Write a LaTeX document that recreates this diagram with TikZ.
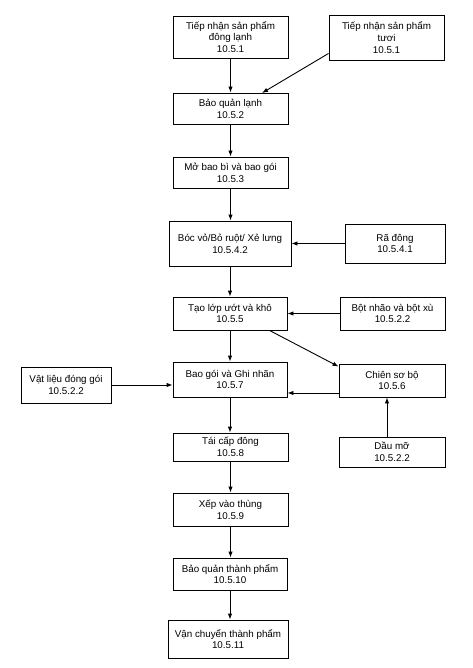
\documentclass[tikz,border=0pt]{standalone}
\usepackage{fontspec}
\setmainfont{Liberation Sans}
\usetikzlibrary{arrows.meta}
\begin{document}
\begin{tikzpicture}[x=1pt,y=-1pt,
  box/.style={draw,line width=0.9pt,align=center,inner sep=1pt,font=\fontsize{9.8}{11.8}\selectfont},
  arr/.style={-{Latex[length=6pt,width=4.5pt]},line width=0.9pt}]
\useasboundingbox (0,0) rectangle (472,668);
\node[box,minimum width=115pt,minimum height=42pt] (b1) at (230.5,37) {Tiếp nhận sản phẩm\\đông lạnh\\10.5.1};
\node[box,minimum width=115pt,minimum height=45pt] (tuoi) at (386.5,37.5) {Tiếp nhận sản phẩm\\tươi\\10.5.1};
\node[box,minimum width=115pt,minimum height=31pt] (b2) at (230.5,108.5) {Bảo quản lạnh\\10.5.2};
\node[box,minimum width=115pt,minimum height=31pt] (b3) at (230.5,172.5) {Mở bao bì và bao gói\\10.5.3};
\node[box,minimum width=122pt,minimum height=45pt] (b4) at (230,243.5) {Bóc vỏ/Bỏ ruột/ Xẻ lưng\\10.5.4.2};
\node[box,minimum width=100pt,minimum height=39pt] (ra) at (395,243.5) {Rã đông\\10.5.4.1};
\node[box,minimum width=114pt,minimum height=33pt] (b5) at (230,313.5) {Tạo lớp ướt và khô\\10.5.5};
\node[box,minimum width=105pt,minimum height=33pt] (bot) at (392.5,313.5) {Bột nhão và bột xù\\10.5.2.2};
\node[box,minimum width=114pt,minimum height=35pt] (b7) at (230,379.5) {Bao gói và Ghi nhãn\\10.5.7};
\node[box,minimum width=106pt,minimum height=33pt] (chien) at (392,380.5) {Chiên sơ bộ\\10.5.6};
\node[box,minimum width=90pt,minimum height=36pt] (vat) at (66,385) {Vật liệu đóng gói\\10.5.2.2};
\node[box,minimum width=115pt,minimum height=28pt] (b8) at (230.5,447) {Tái cấp đông\\10.5.8};
\node[box,minimum width=106pt,minimum height=30pt] (dau) at (392,452) {Dầu mỡ\\10.5.2.2};
\node[box,minimum width=115pt,minimum height=33pt] (b9) at (230.5,509.5) {Xếp vào thùng\\10.5.9};
\node[box,minimum width=114pt,minimum height=32pt] (b10) at (230,574) {Bảo quản thành phẩm\\10.5.10};
\node[box,minimum width=120pt,minimum height=38pt] (b11) at (228,639) {Vận chuyển thành phẩm\\10.5.11};
\draw[arr] (b1.south) -- (b1.south |- b2.north);
\draw[arr] (tuoi.south west) ++(0,-7) coordinate (t1) -- (262,93) coordinate (t2);
\draw[arr] (b2.south) -- (b2.south |- b3.north);
\draw[arr] (b3.south) -- (b3.south |- b4.north);
\draw[arr] (b4.south) -- (b4.south |- b5.north);
\draw[arr] (ra.west) -- (ra.west -| b4.east);
\draw[arr] (bot.west) -- (bot.west -| b5.east);
\draw[arr] (b5.south) -- (b5.south |- b7.north);
\draw[arr] (vat.east) -- (vat.east -| b7.west);
\draw[arr] ([yshift=-12.5pt]chien.west) -- ([yshift=-12.5pt]chien.west -| b7.east);
\draw[arr] ([xshift=97pt]b5.south west) -- ([yshift=-3pt]chien.north west);
\draw[arr] ([xshift=-5pt]dau.north) -- ([xshift=-5pt]chien.south);
\draw[arr] (b7.south) -- (b7.south |- b8.north);
\draw[arr] (b8.south) -- (b8.south |- b9.north);
\draw[arr] (b9.south) -- (b9.south |- b10.north);
\draw[arr] (b10.south) -- (b10.south |- b11.north);
\end{tikzpicture}
\end{document}
